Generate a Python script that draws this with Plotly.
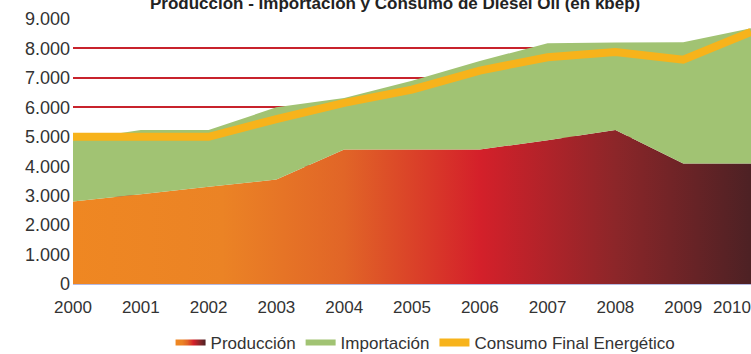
import plotly.graph_objects as go

years = [2000, 2001, 2002, 2003, 2004, 2005, 2006, 2007, 2008, 2009, 2010]
produccion = [2800, 3050, 3300, 3550, 4570, 4570, 4570, 4880, 5230, 4090, 4090]
importacion = [2080, 2180, 1930, 2450, 1750, 2330, 3000, 3300, 2970, 4120, 4600]
consumo = [5000, 5000, 5000, 5600, 6150, 6600, 7250, 7700, 7880, 7620, 8560]

title = "Producción - Importación y Consumo de Diesel Oil (en kbep)"
font = "Liberation Sans Narrow, Arial Narrow, Liberation Sans, Arial, sans-serif"

fig = go.Figure()
fig.add_scatter(
    x=years, y=produccion, name="Producción", stackgroup="one", mode="none",
    fillgradient=dict(
        type="horizontal",
        colorscale=[[0, "#EF8722"], [0.22, "#EB8325"], [0.4, "#E16527"],
                    [0.6, "#D4202A"], [0.8, "#8C2629"], [1, "#4D2124"]],
    ),
)
fig.add_scatter(x=years, y=importacion, name="Importación", stackgroup="one",
                mode="none", fillcolor="#A1C373")
fig.add_scatter(x=years, y=consumo, name="Consumo Final Energético", mode="lines",
                line=dict(color="#F7B31B", width=8))

# la etiqueta de 2010 queda algo a la izquierda del borde
tickvals = years[:-1] + [years[-1] - 0.28]

# el título está recortado por arriba en la imagen original
fig.add_annotation(text="<b>" + title + "</b>", xref="paper", yref="paper",
                   x=0.475, y=1.057, xanchor="center", yanchor="middle", showarrow=False,
                   font=dict(family=font, size=17, color="#222222"))

fig.update_layout(
    width=751, height=354,
    margin=dict(l=73, r=0, t=19, b=70),
    paper_bgcolor="white", plot_bgcolor="white",
    separators=",.",
    font=dict(family=font, size=18, color="#333333"),
    xaxis=dict(range=[2000, 2010], tickvals=tickvals, ticktext=[str(y) for y in years],
               showgrid=False, zeroline=False, showline=True, linecolor="#B4B8E0",
               linewidth=1, ticks="", ticklabelstandoff=8, ticklabeloverflow="allow",
               tickfont=dict(size=17), automargin=False),
    yaxis=dict(range=[0, 9000], dtick=1000, tickformat=",d", gridcolor="#C8232C",
               gridwidth=1.5, zeroline=False, ticks="", ticklabelstandoff=2,
               automargin=False),
    showlegend=True,
    legend=dict(orientation="h", x=0.52, xanchor="center", yref="container", y=0.031,
                yanchor="middle", traceorder="normal",
                font=dict(family=font, size=17, color="#333333")),
)

fig.write_html("out.html", config={"displayModeBar": False},
               post_script="document.body.style.margin = '0';")
